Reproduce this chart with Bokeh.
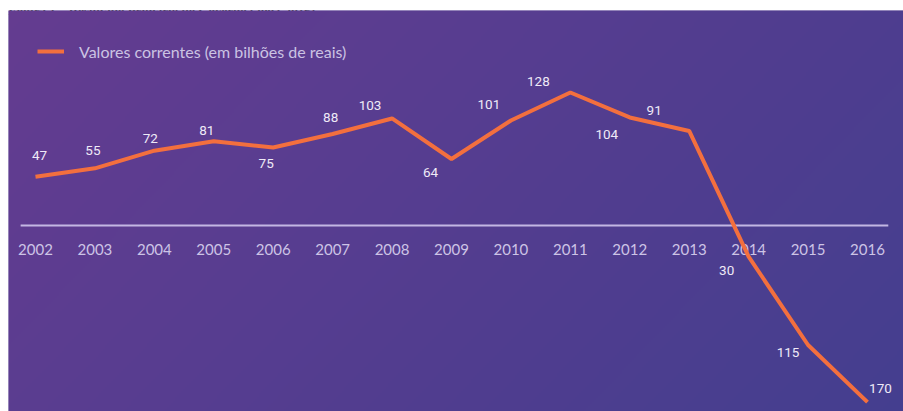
import numpy as np
from bokeh.plotting import figure
from bokeh.models import Range1d, ColumnDataSource, Legend, LegendItem, Label
from bokeh.core.properties import value
from bokeh.embed import file_html
from bokeh.resources import INLINE

# ---- data ----
years = [2002, 2003, 2004, 2005, 2006, 2007, 2008, 2009, 2010, 2011, 2012, 2013, 2014, 2015, 2016]
year_labels = ["2002", "2003", "2004", "2005", "2006", "2007", "2008", "2009",
               "2010", "2011", "2012", "2013", "2014", "2015", "2016"]
values = [47, 55, 72, 81, 75, 88, 103, 64, 101, 128, 104, 91, -30, -115, -170]
value_labels = ["47", "55", "72", "81", "75", "88", "103", "64",
                "101", "128", "104", "91", "30", "115", "170"]
series_name = "Valores correntes (em bilhões de reais)"
title_text = "Figura 1 – Resultado Primário do Governo (2002-2016)"

# label placement (screen px offsets relative to each point)
label_dx = [4, -2, -4, -7, -7, -2, -22, -21, -22, -32, -23, -35, -22, -20, 13]
label_dy = [-21, -18, -12, -11, 16, -17, -13, 14, -16, -11, 17, -20, 14, 8, -14]

src = ColumnDataSource(dict(year=years, value=values, year_label=year_labels,
                            value_label=value_labels, dx=label_dx, dy=label_dy))

xr = Range1d(2001.546, 2016.606)
yr = Range1d(-179.0, 206.9)

p = figure(width=903, height=411, x_range=xr, y_range=yr,
           x_axis_type=None, y_axis_type=None,
           output_backend="svg", toolbar_location=None,
           min_border_left=8, min_border_top=10, min_border_right=0, min_border_bottom=0,
           border_fill_color="white", background_fill_color="#553d90",
           outline_line_color=None)

# gradient panel background
H, W = 200, 450
xf = np.linspace(0, 1, W)
yf_top = np.linspace(1, 0, H)  # row 0 is bottom
t = 0.7 * xf[None, :] + 0.3 * yf_top[:, None]
c0 = np.array([100, 60, 144], dtype=float)
c1 = np.array([68, 62, 143], dtype=float)
rgb = c0[None, None, :] + (c1 - c0)[None, None, :] * t[..., None]
img = np.empty((H, W), dtype=np.uint32)
view = img.view(dtype=np.uint8).reshape((H, W, 4))
view[..., 0] = rgb[..., 0].round().astype(np.uint8)
view[..., 1] = rgb[..., 1].round().astype(np.uint8)
view[..., 2] = rgb[..., 2].round().astype(np.uint8)
view[..., 3] = 255
p.image_rgba(image=[img], x=xr.start, y=yr.start, dw=xr.end - xr.start, dh=yr.end - yr.start)

# title in the white strip above the panel
title = Label(x=0, y=401.5, x_units="screen", y_units="screen", text=title_text,
              text_font="Liberation Serif", text_font_style="bold", text_font_size="13px",
              text_color="black", text_baseline="alphabetic", level="underlay")
p.add_layout(title)

# zero baseline
p.segment(x0=[years[0] - 0.25], y0=[0], x1=[years[-1] + 0.35], y1=[0],
          line_color="#cfc4ec", line_width=2, line_alpha=0.9)

# year labels
p.text(x="year", y=0, text="year_label", source=src, y_offset=24,
       text_align="center", text_baseline="middle",
       text_font=value("Lato"), text_font_size="15px", text_color="#cdc4e6")

# series line
r = p.line(x="year", y="value", source=src, line_color="#f36f3e", line_width=4)

# value labels
p.text(x="year", y="value", text="value_label", source=src,
       x_offset="dx", y_offset="dy", text_align="center", text_baseline="middle",
       text_font=value("Roboto"), text_font_size="13.5px", text_color="#efeaf7")

legend = Legend(items=[LegendItem(label=series_name, renderers=[r])],
                location=(29, 350), padding=0, spacing=0, margin=0,
                glyph_width=27, glyph_height=20, label_height=20, label_standoff=15,
                label_text_font="Lato", label_text_font_size="16px",
                label_text_color="#cbc3e3",
                background_fill_alpha=0, border_line_alpha=0)
p.add_layout(legend)

open("out.html", "w").write(file_html(p, INLINE))
